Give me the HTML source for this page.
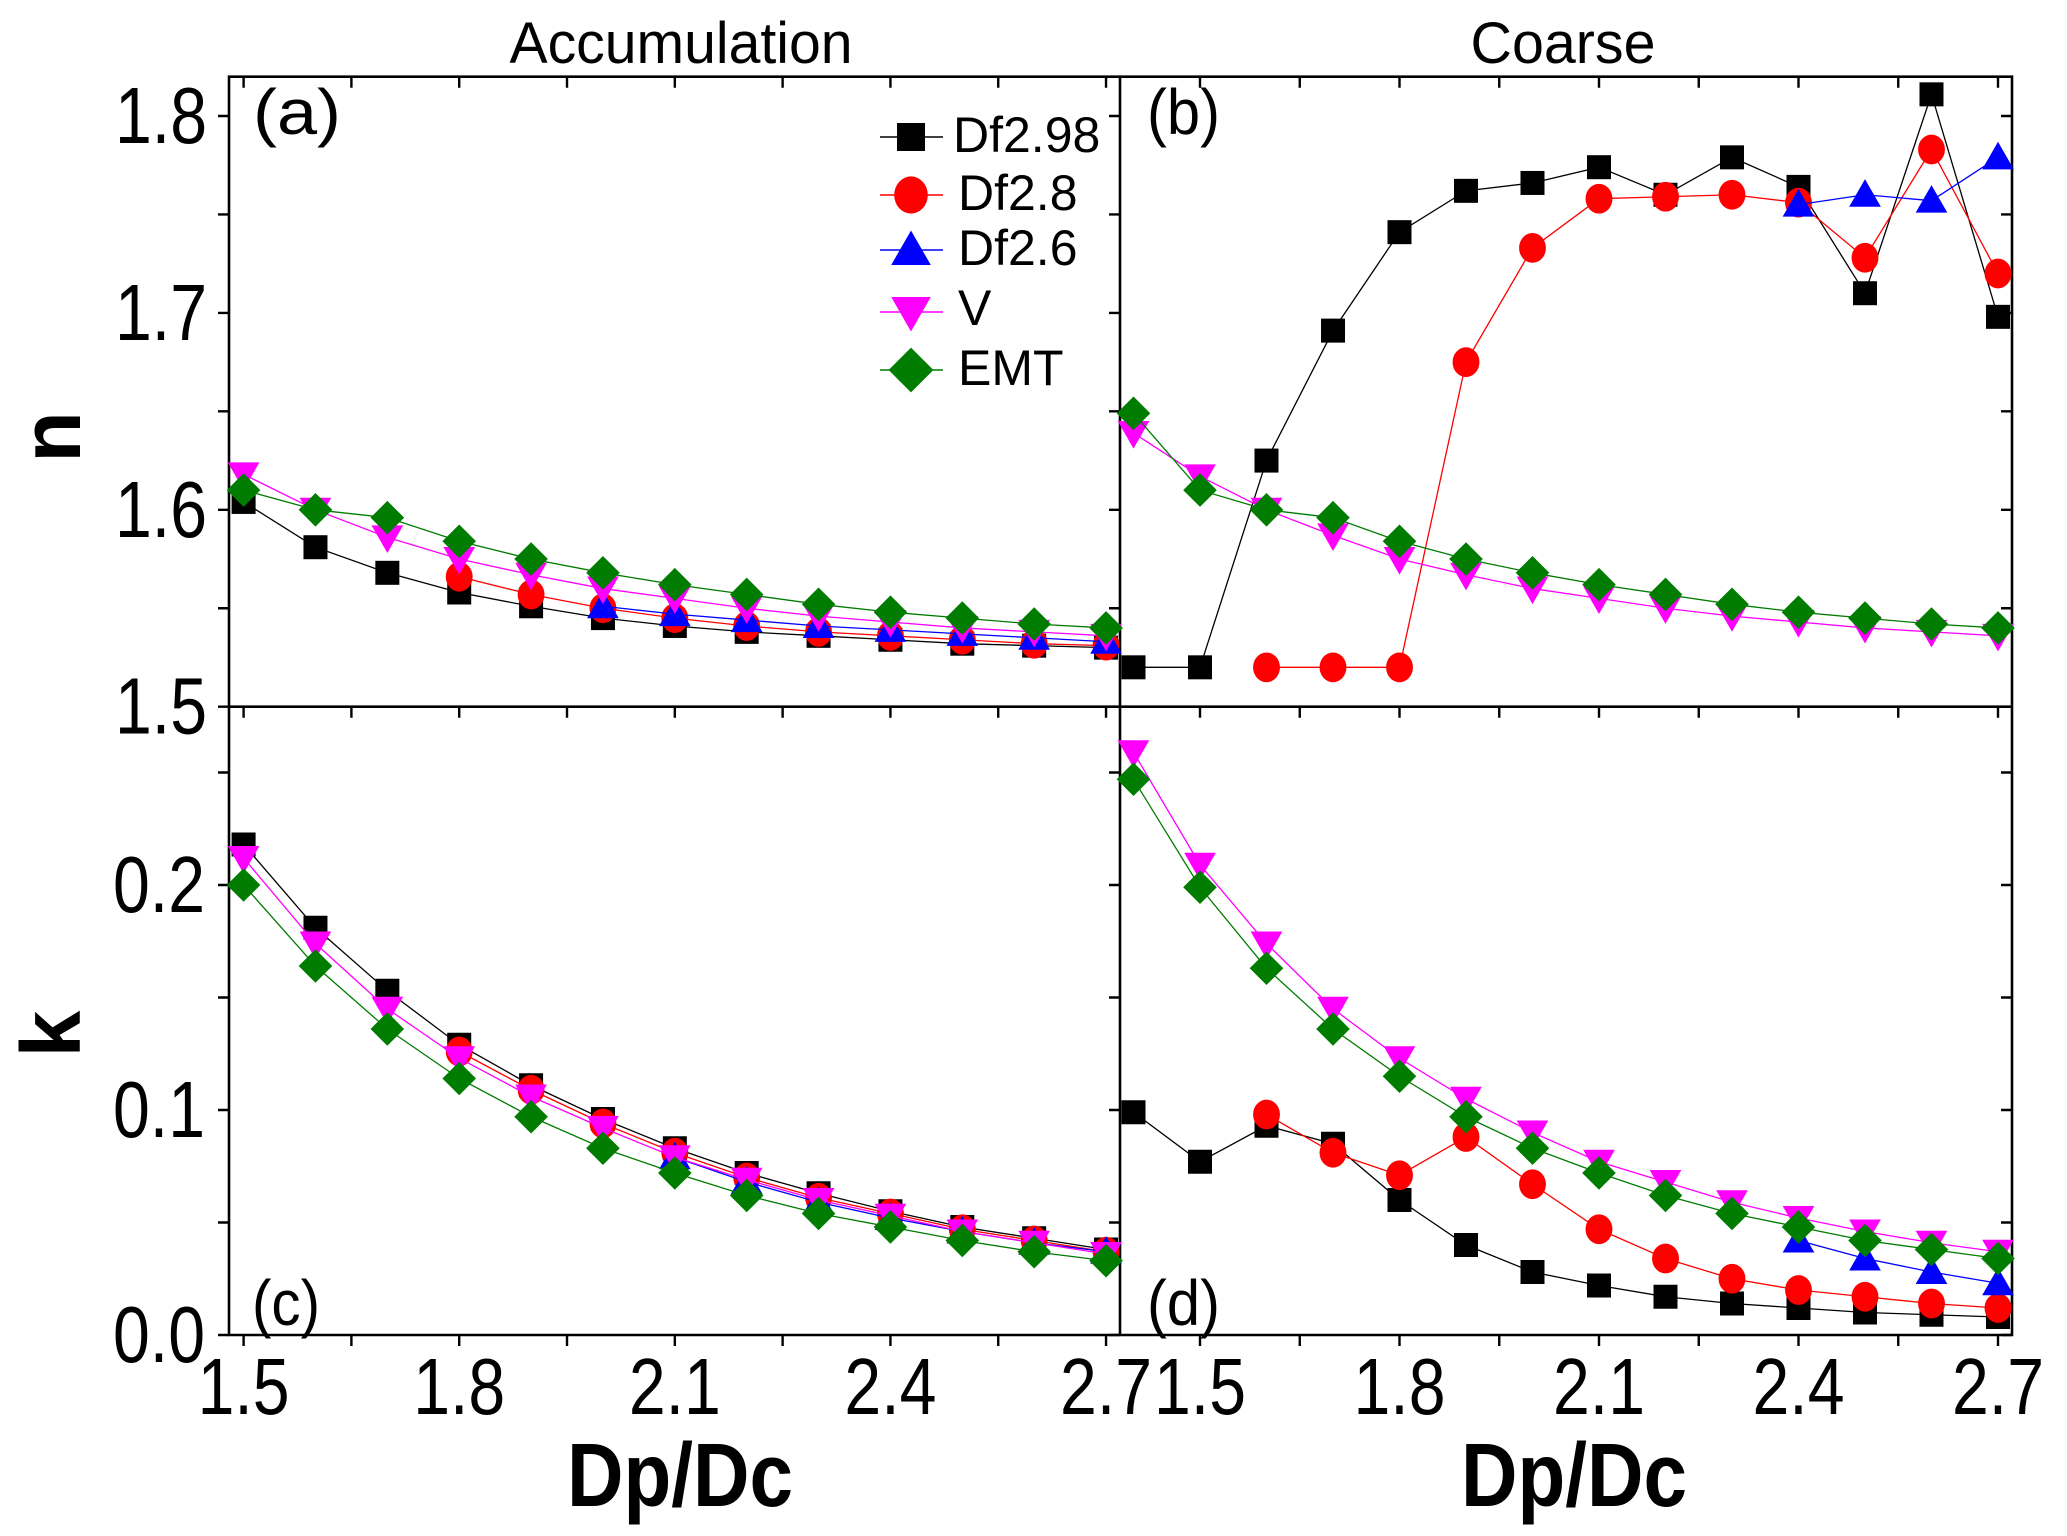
<!DOCTYPE html>
<html><head><meta charset="utf-8"><style>
html,body{margin:0;padding:0;background:#fff;}
svg{display:block;font-family:"Liberation Sans",Arial,sans-serif;}
</style></head><body>
<svg id="chart" width="2067" height="1536" viewBox="0 0 2067 1536" xmlns="http://www.w3.org/2000/svg">
<g id="frames"></g>
<g id="series"></g>
<g id="labels"></g>
</svg>
<script>
// ---- data ----
const xLeft = [1.5,1.6,1.7,1.8,1.9,2.0,2.1,2.2,2.3,2.4,2.5,2.6,2.7];
const xRight = [1.4,1.5,1.6,1.7,1.8,1.9,2.0,2.1,2.2,2.3,2.4,2.5,2.6,2.7];
const xTickLabels = ["1.5","1.8","2.1","2.4","2.7"];
const nTickLabels = ["1.5","1.6","1.7","1.8"];
const kTickLabels = ["0.0","0.1","0.2"];
const seriesNames = ["Df2.98","Df2.8","Df2.6","V","EMT"];

// panel a: n, accumulation (arrays aligned to end of xLeft)
const nA_df298 = [1.604,1.581,1.568,1.558,1.551,1.545,1.541,1.538,1.536,1.534,1.532,1.531,1.530];
const nA_df28  = [1.566,1.557,1.550,1.545,1.541,1.538,1.536,1.534,1.532,1.531];
const nA_df26  = [1.551,1.547,1.544,1.541,1.539,1.537,1.535,1.533];
const nA_v     = [1.618,1.600,1.586,1.575,1.567,1.560,1.555,1.550,1.546,1.543,1.540,1.538,1.536];
const nA_emt   = [1.610,1.600,1.596,1.584,1.575,1.568,1.562,1.557,1.552,1.548,1.545,1.542,1.540];
// panel b: n, coarse (aligned to end of xRight)
const nB_df298 = [1.520,1.520,1.625,1.691,1.741,1.762,1.766,1.774,1.760,1.779,1.764,1.710,1.811,1.698];
const nB_df28  = [1.520,1.520,1.520,1.675,1.733,1.758,1.759,1.760,1.756,1.728,1.783,1.720];
const nB_df26  = [1.755,1.760,1.757,1.779];
const nB_v     = [1.639,1.617,1.600,1.587,1.575,1.567,1.560,1.555,1.550,1.546,1.543,1.540,1.538,1.536];
const nB_emt   = [1.649,1.610,1.600,1.596,1.584,1.575,1.568,1.562,1.557,1.552,1.548,1.545,1.542,1.540];
// panel c: k, accumulation
const kC_df298 = [0.218,0.181,0.153,0.129,0.111,0.096,0.083,0.072,0.063,0.055,0.048,0.043,0.038];
const kC_df28  = [0.126,0.109,0.094,0.081,0.070,0.061,0.054,0.047,0.042,0.037];
const kC_df26  = [0.079,0.068,0.059,0.052,0.046,0.041,0.037];
const kC_v     = [0.212,0.174,0.145,0.123,0.106,0.092,0.079,0.069,0.060,0.053,0.046,0.041,0.036];
const kC_emt   = [0.200,0.164,0.136,0.114,0.097,0.083,0.072,0.062,0.054,0.048,0.042,0.037,0.033];
// panel d: k, coarse
const kD_df298 = [0.099,0.077,0.093,0.085,0.060,0.040,0.028,0.022,0.017,0.014,0.012,0.010,0.009,0.008];
const kD_df28  = [0.098,0.081,0.071,0.088,0.067,0.047,0.034,0.025,0.020,0.017,0.014,0.012];
const kD_df26  = [0.042,0.034,0.028,0.023];
const kD_v     = [0.259,0.209,0.174,0.145,0.123,0.105,0.090,0.077,0.068,0.059,0.052,0.046,0.041,0.037];
const kD_emt   = [0.247,0.199,0.163,0.136,0.115,0.097,0.083,0.072,0.062,0.054,0.048,0.042,0.038,0.034];

// ---- geometry ----
const NS="http://www.w3.org/2000/svg";
const L=229, M=1120, R=2012, T=76.7, MID=706.7, B=1335;
const xA = v => 243.6 + (v-1.5)*718.7;
const xB = v => 1200 + (v-1.5)*665;
const yN = v => MID - (v-1.5)*1969;
const yK = v => B - v*2250;
const colors = {"Df2.98":"#000000","Df2.8":"#ff0000","Df2.6":"#0000ff","V":"#ff00ff","EMT":"#007c00"};
const shapes = {"Df2.98":"square","Df2.8":"circle","Df2.6":"up","V":"down","EMT":"diamond"};

function el(tag, attrs, parent){
  const e=document.createElementNS(NS,tag);
  for(const k in attrs) e.setAttribute(k,attrs[k]);
  parent.appendChild(e); return e;
}
const frames=document.getElementById('frames');
const seriesG=document.getElementById('series');
const labels=document.getElementById('labels');

function marker(shape,cx,cy,s,col,parent){
  let m;
  if(shape==="square") m=el('rect',{x:cx-s*0.5,y:cy-s*0.5,width:s,height:s,fill:col},parent);
  else if(shape==="circle") m=el('ellipse',{cx:cx,cy:cy,rx:s*0.56,ry:s*0.62,fill:col},parent);
  else if(shape==="up") m=el('polygon',{points:`${cx},${cy-s*0.65} ${cx+s*0.66},${cy+s*0.5} ${cx-s*0.66},${cy+s*0.5}`,fill:col},parent);
  else if(shape==="down") m=el('polygon',{points:`${cx},${cy+s*0.65} ${cx+s*0.66},${cy-s*0.5} ${cx-s*0.66},${cy-s*0.5}`,fill:col},parent);
  else m=el('polygon',{points:`${cx},${cy-s*0.7} ${cx+s*0.7},${cy} ${cx},${cy+s*0.7} ${cx-s*0.7},${cy}`,fill:col},parent);
  return m;
}

function drawSeries(panel,name,xs,vals,fx,fy){
  const g=el('g',{},seriesG);
  
  
  const off=xs.length-vals.length;
  const pts=vals.map((v,i)=>[fx(xs[i+off]),fy(v)]);
  const line=el('polyline',{points:pts.map(p=>p.join(',')).join(' '),fill:'none',stroke:colors[name],'stroke-width':1.3},g);
  
  
  pts.forEach(p=>{
    const m=marker(shapes[name],p[0],p[1],24,colors[name],g);
    
    
  });
}

drawSeries('panel-a','Df2.98',xLeft,nA_df298,xA,yN);
drawSeries('panel-a','Df2.8',xLeft,nA_df28,xA,yN);
drawSeries('panel-a','Df2.6',xLeft,nA_df26,xA,yN);
drawSeries('panel-a','V',xLeft,nA_v,xA,yN);
drawSeries('panel-a','EMT',xLeft,nA_emt,xA,yN);
drawSeries('panel-b','Df2.98',xRight,nB_df298,xB,yN);
drawSeries('panel-b','Df2.8',xRight,nB_df28,xB,yN);
drawSeries('panel-b','Df2.6',xRight,nB_df26,xB,yN);
drawSeries('panel-b','V',xRight,nB_v,xB,yN);
drawSeries('panel-b','EMT',xRight,nB_emt,xB,yN);
drawSeries('panel-c','Df2.98',xLeft,kC_df298,xA,yK);
drawSeries('panel-c','Df2.8',xLeft,kC_df28,xA,yK);
drawSeries('panel-c','Df2.6',xLeft,kC_df26,xA,yK);
drawSeries('panel-c','V',xLeft,kC_v,xA,yK);
drawSeries('panel-c','EMT',xLeft,kC_emt,xA,yK);
drawSeries('panel-d','Df2.98',xRight,kD_df298,xB,yK);
drawSeries('panel-d','Df2.8',xRight,kD_df28,xB,yK);
drawSeries('panel-d','Df2.6',xRight,kD_df26,xB,yK);
drawSeries('panel-d','V',xRight,kD_v,xB,yK);
drawSeries('panel-d','EMT',xRight,kD_emt,xB,yK);

// frames
const fr=el('path',{d:`M${L},${T}H${R}V${B}H${L}Z M${L},${MID}H${R} M${M},${T}V${B}`,fill:'none',stroke:'#000','stroke-width':2.6},frames);



// ticks
let td='';
for(let i=0;i<=8;i++){
  const v=1.5+i*0.15;
  const len=11;
  [xA(v),xB(v)].forEach(x=>{
    [T,MID,B].forEach(y=>{ td+=`M${x},${y}v${len}`; });
  });
}
for(let i=0;i<=6;i++){
  const v=1.5+i*0.05; const y=yN(v); if(y<T) continue;
  [L,M,R].forEach(x=>{ td+=`M${x},${y}h-11`; });
}
for(let i=0;i<=5;i++){
  const v=i*0.05; const y=yK(v); if(y<MID) continue;
  [L,M,R].forEach(x=>{ td+=`M${x},${y}h-11`; });
}
const ticks=el('path',{d:td,stroke:'#000','stroke-width':2.4,fill:'none'},frames);



function txt(s,attrs,name){
  const t=el('text',attrs,labels); t.textContent=s;
  
  
  return t;
}
nTickLabels.forEach(s=>{ txt(s,{x:207,y:yN(parseFloat(s))+27,'text-anchor':'end','font-size':80,textLength:92,lengthAdjust:'spacingAndGlyphs'},'n-tick-label'); });
kTickLabels.forEach(s=>{ txt(s,{x:205,y:yK(parseFloat(s))+27,'text-anchor':'end','font-size':80,textLength:92,lengthAdjust:'spacingAndGlyphs'},'k-tick-label'); });
xTickLabels.forEach(s=>{
  txt(s,{x:xA(parseFloat(s)),y:1414,'text-anchor':'middle','font-size':80,textLength:92,lengthAdjust:'spacingAndGlyphs'},'x-tick-label-left');
  txt(s,{x:xB(parseFloat(s)),y:1414,'text-anchor':'middle','font-size':80,textLength:92,lengthAdjust:'spacingAndGlyphs'},'x-tick-label-right');
});
txt('Dp/Dc',{x:680,y:1506,'text-anchor':'middle','font-size':90,'font-weight':'bold',textLength:226,lengthAdjust:'spacingAndGlyphs'},'x-axis-title-left');
txt('Dp/Dc',{x:1574,y:1506,'text-anchor':'middle','font-size':90,'font-weight':'bold',textLength:226,lengthAdjust:'spacingAndGlyphs'},'x-axis-title-right');
txt('n',{x:0,y:0,'text-anchor':'middle','font-size':84,'font-weight':'bold',transform:'translate(80,437) rotate(-90)'},'y-axis-title-n');
txt('k',{x:0,y:0,'text-anchor':'middle','font-size':84,'font-weight':'bold',transform:'translate(80,1034) rotate(-90)'},'y-axis-title-k');
txt('Accumulation',{x:681,y:63,'text-anchor':'middle','font-size':58,textLength:343,lengthAdjust:'spacingAndGlyphs'},'column-title-accumulation');
txt('Coarse',{x:1563,y:63,'text-anchor':'middle','font-size':58,textLength:185,lengthAdjust:'spacingAndGlyphs'},'column-title-coarse');
txt('(a)',{x:253,y:134,'font-size':64,textLength:88,lengthAdjust:'spacingAndGlyphs'},'panel-label-a');
txt('(b)',{x:1147,y:134,'font-size':64,textLength:73,lengthAdjust:'spacingAndGlyphs'},'panel-label-b');
txt('(c)',{x:252,y:1325,'font-size':64,textLength:68,lengthAdjust:'spacingAndGlyphs'},'panel-label-c');
txt('(d)',{x:1147,y:1325,'font-size':64,textLength:73,lengthAdjust:'spacingAndGlyphs'},'panel-label-d');

const legend=el('g',{},labels);


const legY=[137,195,250,312,370];
const legBase=[152,210,265,325,385];
const legSize=[28,30,30,30,32];
seriesNames.forEach((n,i)=>{
  const g=el('g',{},legend);
  
  
  el('line',{x1:880,x2:943,y1:legY[i],y2:legY[i],stroke:colors[n],'stroke-width':1.5},g);
  marker(shapes[n],911,legY[i],legSize[i],colors[n],g);
  const t=el('text',{x:i===0?953:958,y:legBase[i],'font-size':50},g);
  t.textContent=n;
  
  
});
</script>
</body></html>
